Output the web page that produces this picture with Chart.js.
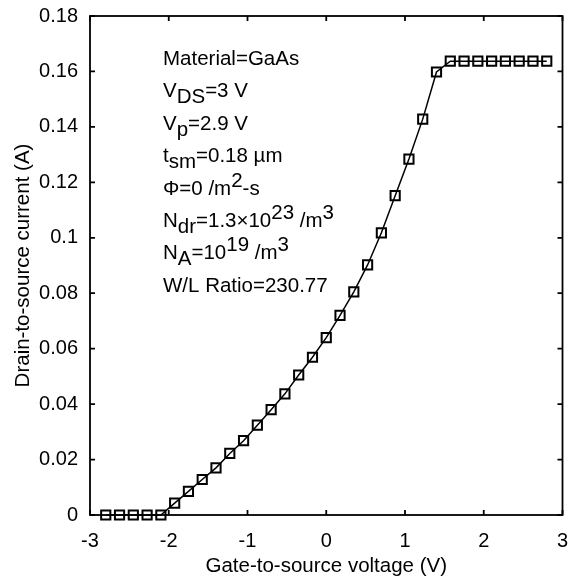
<!DOCTYPE html>
<html>
<head>
<meta charset="utf-8">
<script src="https://cdn.jsdelivr.net/npm/chart.js@4"></script>
<style>
  html, body { margin: 0; padding: 0; background: #fff; }
</style>
</head>
<body>
<canvas id="idsChart" width="571" height="585"></canvas>
<script>
// Gate-to-source voltage (V) and drain-to-source current (A)
const vgs = [-2.8, -2.625, -2.45, -2.275, -2.1, -1.925, -1.75, -1.575, -1.4, -1.225, -1.05,
             -0.875, -0.7, -0.525, -0.35, -0.175, 0, 0.175, 0.35, 0.525, 0.7, 0.875,
             1.05, 1.225, 1.4, 1.575, 1.75, 1.925, 2.1, 2.275, 2.45, 2.625, 2.8];
const ids = [0, 0, 0, 0, 0, 0.0043, 0.0085, 0.0128, 0.0170, 0.0222, 0.0268,
             0.0324, 0.0380, 0.0437, 0.0505, 0.0569, 0.0640, 0.0720, 0.0805, 0.0902, 0.1018, 0.1152,
             0.1284, 0.1428, 0.1598, 0.1637, 0.1637, 0.1637, 0.1637, 0.1637, 0.1637, 0.1637, 0.1637];
const xTicks = [-3, -2, -1, 0, 1, 2, 3];
const yTicks = [0, 0.02, 0.04, 0.06, 0.08, 0.1, 0.12, 0.14, 0.16, 0.18];

// parameter box, each line is a list of [text, 'sub'|'sup'|undefined]
const notes = [
  [['Material=GaAs']],
  [['V'], ['DS', 'sub'], ['=3 V']],
  [['V'], ['p', 'sub'], ['=2.9 V']],
  [['t'], ['sm', 'sub'], ['=0.18 \u00b5m']],
  [['\u03a6=0 /m'], ['2', 'sup'], ['-s']],
  [['N'], ['dr', 'sub'], ['=1.3\u00d710'], ['23', 'sup'], [' /m'], ['3', 'sup']],
  [['N'], ['A', 'sub'], ['=10'], ['19', 'sup'], [' /m'], ['3', 'sup']],
  [['W/L Ratio=230.77']]
];

const FONT = '"Liberation Sans", Arial, sans-serif';

// box round the plot with short inward ticks on all four sides
const framePlugin = {
  id: 'frame',
  beforeDatasetsDraw(chart) {
    const { ctx, chartArea: a, scales: { x, y } } = chart;
    const len = 5;
    ctx.save();
    ctx.strokeStyle = '#000';
    ctx.lineWidth = 1.8;
    ctx.strokeRect(a.left, a.top, a.right - a.left, a.bottom - a.top);
    ctx.beginPath();
    xTicks.forEach(v => {
      const px = x.getPixelForValue(v);
      ctx.moveTo(px, a.bottom); ctx.lineTo(px, a.bottom - len);
      ctx.moveTo(px, a.top); ctx.lineTo(px, a.top + len);
    });
    yTicks.forEach(v => {
      const py = y.getPixelForValue(v);
      ctx.moveTo(a.left, py); ctx.lineTo(a.left + len, py);
      ctx.moveTo(a.right, py); ctx.lineTo(a.right - len, py);
    });
    ctx.stroke();
    ctx.restore();
  }
};

const notesPlugin = {
  id: 'notes',
  afterDraw(chart) {
    const ctx = chart.ctx;
    ctx.save();
    ctx.fillStyle = '#000';
    ctx.font = '20.5px ' + FONT;
    ctx.textBaseline = 'alphabetic';
    notes.forEach((line, i) => {
      let px = 163;
      const base = 65 + i * 32.4;
      line.forEach(([txt, kind]) => {
        const dy = kind === 'sub' ? 6 : kind === 'sup' ? -8 : 0;
        ctx.fillText(txt, px, base + dy);
        px += ctx.measureText(txt).width;
      });
    });
    ctx.restore();
  }
};

new Chart(document.getElementById('idsChart'), {
  type: 'scatter',
  data: {
    datasets: [{
      data: vgs.map((v, i) => ({ x: v, y: ids[i] })),
      showLine: true,
      borderColor: '#000',
      borderWidth: 1.5,
      pointStyle: 'rect',
      pointRadius: 6.5,
      pointBorderWidth: 2,
      pointBorderColor: '#000',
      pointBackgroundColor: 'rgba(0,0,0,0)',
      clip: false
    }]
  },
  options: {
    responsive: false,
    animation: false,
    layout: { padding: { left: 0, right: 8, top: 16, bottom: 0 } },
    plugins: { legend: { display: false }, tooltip: { enabled: false } },
    scales: {
      x: {
        type: 'linear',
        min: -3,
        max: 3,
        afterBuildTicks: s => { s.ticks = xTicks.map(v => ({ value: v })); },
        afterFit: s => { s.height = 70; s.paddingLeft = 0; s.paddingRight = 0; },
        grid: { display: false, drawTicks: false },
        border: { display: false },
        ticks: { color: '#000', padding: 14, font: { size: 20, family: FONT }, callback: v => String(v) },
        title: { display: true, text: 'Gate-to-source voltage (V)', color: '#000',
                 font: { size: 20.5, family: FONT }, padding: { top: 0, bottom: 6 } }
      },
      y: {
        min: 0,
        max: 0.18,
        afterBuildTicks: s => { s.ticks = yTicks.map(v => ({ value: v })); },
        afterFit: s => { s.width = 90; s.paddingTop = 0; s.paddingBottom = 0; },
        grid: { display: false, drawTicks: false },
        border: { display: false },
        ticks: { color: '#000', padding: 12, font: { size: 20, family: FONT }, callback: v => String(v) },
        title: { display: true, text: 'Drain-to-source current (A)', color: '#000',
                 font: { size: 20.5, family: FONT }, padding: { top: 11, bottom: 0 } }
      }
    }
  },
  plugins: [framePlugin, notesPlugin]
});
</script>
</body>
</html>
